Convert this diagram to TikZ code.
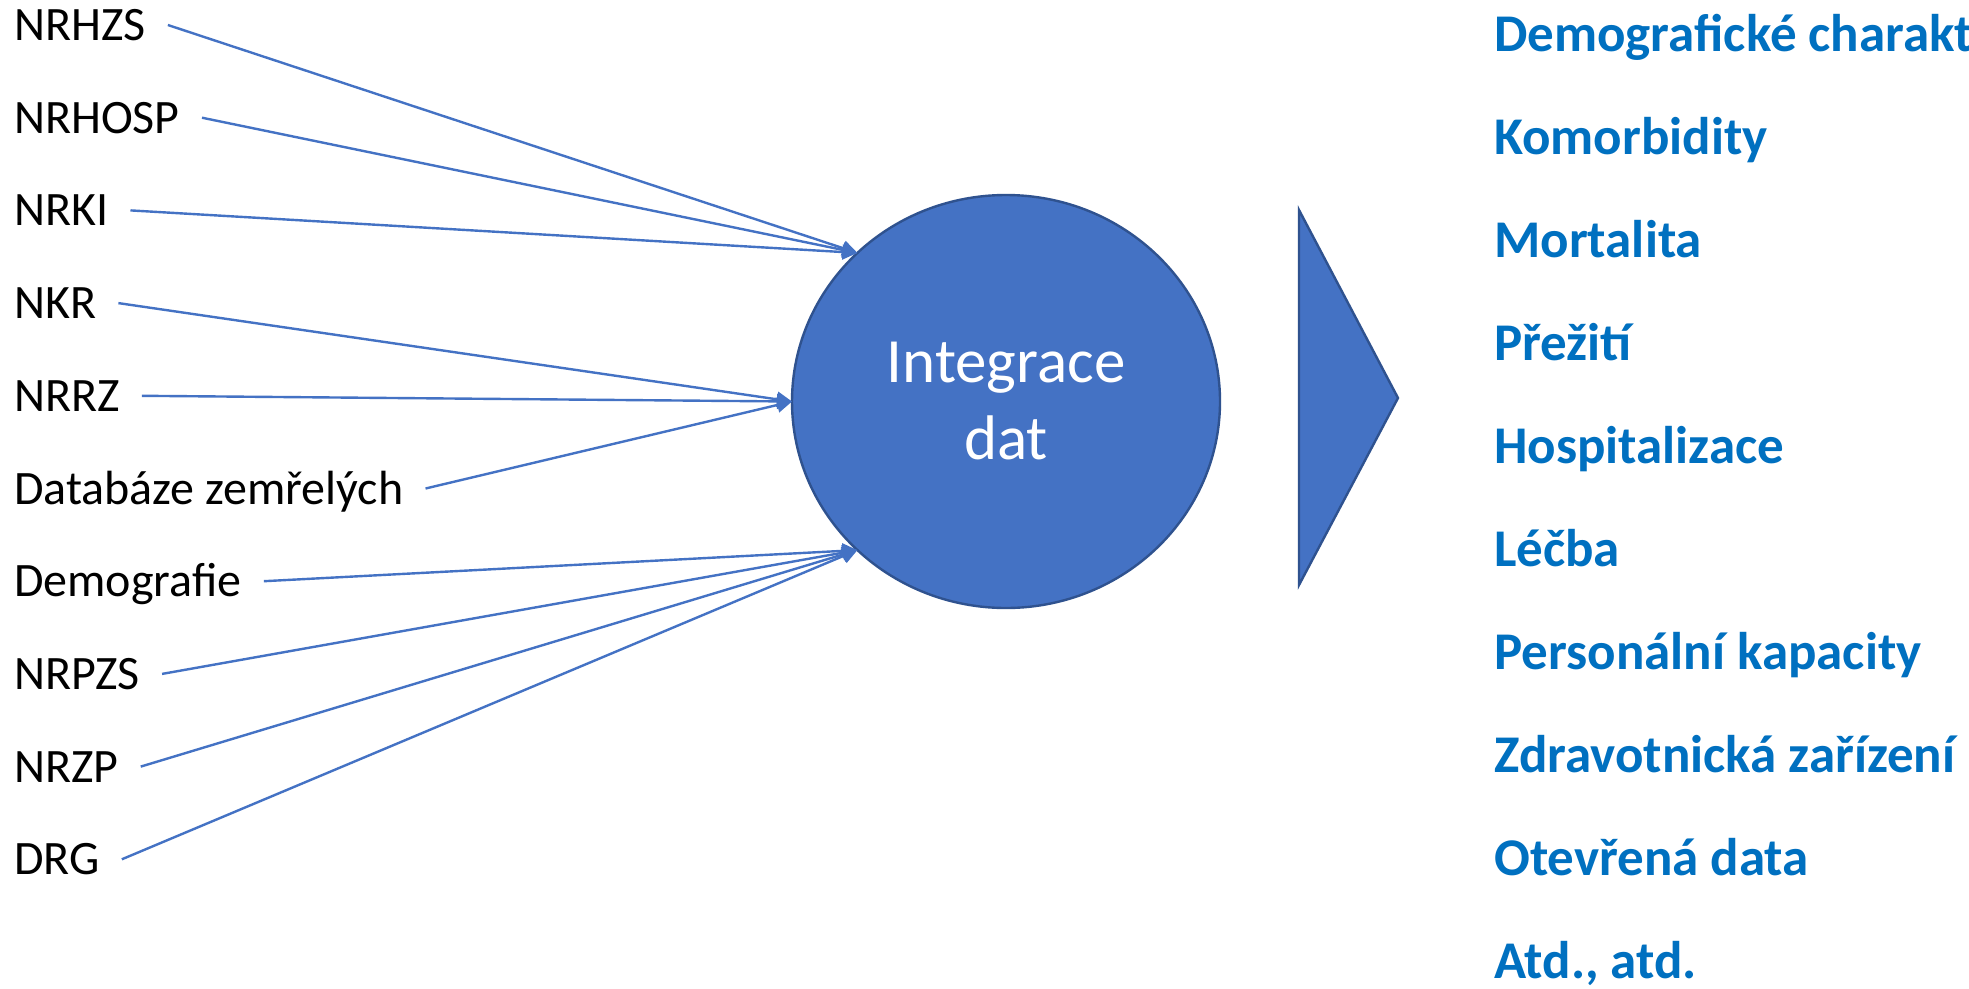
\documentclass[tikz,border=0pt]{standalone}
\usepackage{fontspec}
\setmainfont{Carlito}
\usetikzlibrary{arrows.meta,shapes.geometric}
\definecolor{accent}{RGB}{68,114,196}
\definecolor{accentdark}{RGB}{47,82,143}
\definecolor{heading}{RGB}{0,112,192}

\begin{document}
\begin{tikzpicture}[x=1pt,y=-1pt,
  source/.style={anchor=base west,inner sep=0pt,font=\fontsize{48}{58}\selectfont,text=black},
  result/.style={anchor=base west,inner sep=0pt,font=\fontsize{53}{64}\selectfont\bfseries,text=heading},
  hub/.style={ellipse,draw=accentdark,line width=2.4pt,fill=accent,minimum width=428pt,
    minimum height=413pt,inner sep=0pt,outer sep=0pt,text=white,align=center,
    font=\fontsize{63}{77}\selectfont},
  feed/.style={draw=accent,line width=2.4pt,-{Triangle[length=15pt,width=15pt]}},
  wedge/.style={draw=accentdark,line width=2.4pt,fill=accent,line join=miter}]

\clip (0,0) rectangle (1969,988);
\fill[white] (0,0) rectangle (1969,988);

% data sources
\foreach \t [count=\i from 0] in {NRHZS,NRHOSP,NRKI,NKR,NRRZ,Databáze zemřelých,Demografie,NRPZS,NRZP,DRG}
  \node[source] (s\i) at (14,40.5+92.7*\i) {\t};

% integration hub
\node[hub] (c) at (1006,401.5) {Integrace\\dat};

% connectors into the hub
\foreach \i in {0,1,2}
  \draw[feed] ([shift={(22,-15.5)}]s\i.base east) -- (c.135);
\foreach \i in {3,4,5}
  \draw[feed] ([shift={(22,-15.5)}]s\i.base east) -- (c.180);
\foreach \i in {6,7,8,9}
  \draw[feed] ([shift={(22,-15.5)}]s\i.base east) -- (c.225);

% output wedge
\coordinate (w1) at (1299,210);
\coordinate (w2) at (1398,398);
\coordinate (w3) at (1299,585);
\draw[wedge] (w1) -- (w2) -- (w3) -- cycle;

% outputs
\foreach \t [count=\i from 0] in {Demografické charakteristiky,Komorbidity,Mortalita,Přežití,Hospitalizace,Léčba,Personální kapacity,Zdravotnická zařízení,Otevřená data,{Atd., atd.}}
  \node[result] (r\i) at (1494,51.5+103*\i) {\t};
\end{tikzpicture}
\end{document}
